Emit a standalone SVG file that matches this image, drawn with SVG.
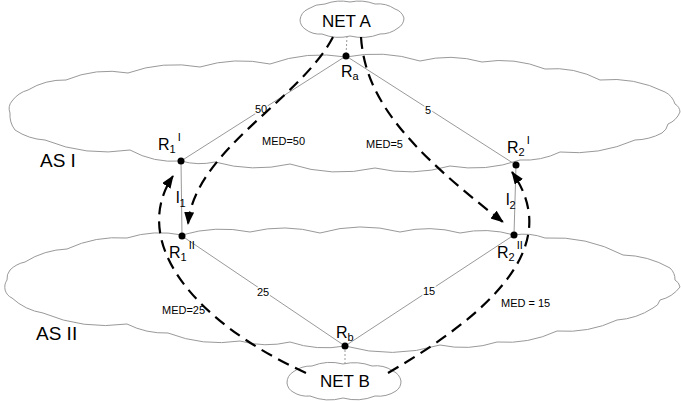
<svg xmlns="http://www.w3.org/2000/svg" width="681" height="401" viewBox="0 0 681 401">
<style>
.cloud{fill:#fff;stroke:#999;stroke-width:1}
.link{stroke:#999;stroke-width:1;fill:none}
.dot{stroke:#999;stroke-width:1;stroke-dasharray:2 2;fill:none}
.path{stroke:#000;stroke-width:2.2;fill:none;stroke-dasharray:12 7;marker-end:url(#ah)}
text{font-family:"Liberation Sans",Arial,sans-serif;fill:#000}
.r{font-size:16px}
.s{font-size:11px}
.lbl{font-size:11px;fill:#000;paint-order:stroke;stroke:#fff;stroke-width:3}
.as{font-size:19px}
.net{font-size:17px}
</style>
<defs>
<marker id="ah" markerUnits="userSpaceOnUse" markerWidth="14" markerHeight="12" refX="12" refY="5" orient="auto">
<path d="M0,0 L13,5 L0,10 Z" fill="#000"/>
</marker>
</defs>
<g id="as1">
<path class="cloud" d="M10,113 A12,12 0 0 1 12,101 A30,30 0 0 1 28,90 A70,70 0 0 1 66,80 A110,110 0 0 1 128,73 A140,140 0 0 1 200,67 A140,140 0 0 1 270,64 A150,150 0 0 1 346,57 A150,150 0 0 1 420,61 A120,120 0 0 1 482,62 A120,120 0 0 1 545,69 A100,100 0 0 1 600,80 A120,120 0 0 1 665,92 A20,20 0 0 1 675,104 A10,10 0 0 1 680,112 A22,22 0 0 1 668,124 A14,14 0 0 1 662,133 A60,60 0 0 1 635,140 A150,150 0 0 1 560,152 A80,80 0 0 1 520,160 A140,140 0 0 1 450,166 A150,150 0 0 1 375,168 A160,160 0 0 1 290,164 A150,150 0 0 1 215,162 A70,70 0 0 1 181,161 A90,90 0 0 1 130,150 A160,160 0 0 1 45,140 A60,60 0 0 1 15,130 A25,25 0 0 1 10,113 Z"/>
<text class="as" x="40" y="167">AS I</text>
</g>
<g id="as2">
<path class="cloud" d="M7,280 A14,14 0 0 1 10,270 A30,30 0 0 1 25,262 A85,85 0 0 1 67,249 A120,120 0 0 1 127,238 A110,110 0 0 1 182,235 A140,140 0 0 1 250,232 A140,140 0 0 1 320,233 A150,150 0 0 1 400,232 A120,120 0 0 1 460,233 A110,110 0 0 1 514,235 A60,60 0 0 1 545,238 A150,150 0 0 1 623,255 A100,100 0 0 1 670,268 A16,16 0 0 1 675,280 A10,10 0 0 1 680,287 A35,35 0 0 1 660,300 A12,12 0 0 1 653,308 A75,75 0 0 1 617,320 A120,120 0 0 1 557,331 A120,120 0 0 1 497,342 A110,110 0 0 1 440,345 A170,170 0 0 1 345,346 A110,110 0 0 1 290,342 A100,100 0 0 1 240,341 A140,140 0 0 1 168,333 A85,85 0 0 1 127,324 A160,160 0 0 1 43,313 A60,60 0 0 1 12,298 A12,12 0 0 1 7,280 Z"/>
<text class="as" x="36" y="340">AS II</text>
</g>
<g id="netA">
<path class="cloud" d="M300,20 A14,14 0 0 1 308,9 A30,30 0 0 1 325,4 A45,45 0 0 1 350,2 A45,45 0 0 1 375,4 A30,30 0 0 1 395,9 A14,14 0 0 1 404,18 A12,12 0 0 1 398,28 A28,28 0 0 1 380,34 A50,50 0 0 1 350,36 A45,45 0 0 1 322,34 A24,24 0 0 1 305,29 A12,12 0 0 1 300,20 Z"/>
<text class="net" x="322" y="27">NET A</text>
</g>
<g id="netB">
<path class="cloud" d="M287,383 A13,13 0 0 1 293,372 A30,30 0 0 1 312,366 A50,50 0 0 1 343,364 A50,50 0 0 1 372,366 A30,30 0 0 1 393,371 A14,14 0 0 1 401,381 A12,12 0 0 1 396,391 A32,32 0 0 1 375,396 A50,50 0 0 1 343,398 A50,50 0 0 1 310,396 A26,26 0 0 1 293,392 A12,12 0 0 1 287,383 Z"/>
<text class="net" x="320" y="387">NET B</text>
</g>
<g id="connectors">
<line class="link" x1="346" y1="56" x2="181" y2="161"/>
<line class="link" x1="346" y1="56" x2="516" y2="165"/>
<line class="link" x1="181" y1="161" x2="182" y2="236"/>
<line class="link" x1="516" y1="165" x2="514" y2="235"/>
<line class="link" x1="182" y1="236" x2="345" y2="346"/>
<line class="link" x1="514" y1="235" x2="345" y2="346"/>
<line class="dot" x1="347" y1="36" x2="346" y2="56"/>
<line class="dot" x1="345" y1="346" x2="345" y2="364"/>
<text class="lbl" x="255" y="113">50</text>
<text class="lbl" x="425" y="114">5</text>
<text class="lbl" x="257" y="296">25</text>
<text class="lbl" x="423" y="295">15</text>
<path class="path" d="M333,37 C300,100 195,150 188,224"/>
<path class="path" d="M361,37 C365,100 410,150 503,222"/>
<path class="path" d="M306,373 C190,320 130,240 173,176"/>
<path class="path" d="M388,373 C505,305 560,240 512,172"/>
<text class="s" x="262" y="145">MED=50</text>
<text class="s" x="366" y="148">MED=5</text>
<text class="s" x="162" y="314">MED=25</text>
<text class="s" x="501" y="307">MED = 15</text>
</g>
<g id="Ra"><circle cx="346" cy="56" r="3.5"/><text class="r" x="341" y="77">R<tspan class="s" dy="3">a</tspan></text></g>
<g id="R1I"><circle cx="181" cy="161" r="3.5"/><text class="r" x="158" y="150">R<tspan class="s" dy="3">1</tspan><tspan class="s" dx="2" dy="-12">I</tspan></text></g>
<g id="R2I"><circle cx="516" cy="165" r="3.5"/><text class="r" x="507" y="153">R<tspan class="s" dy="3">2</tspan><tspan class="s" dx="2" dy="-12">I</tspan></text></g>
<g id="R1II"><circle cx="182" cy="236" r="3.5"/><text class="r" x="169" y="258">R<tspan class="s" dy="3">1</tspan><tspan class="s" dx="2" dy="-12">II</tspan></text></g>
<g id="R2II"><circle cx="514" cy="235" r="3.5"/><text class="r" x="497" y="258">R<tspan class="s" dy="3">2</tspan><tspan class="s" dx="2" dy="-12">II</tspan></text></g>
<g id="Rb"><circle cx="345" cy="346" r="3.5"/><text class="r" x="336" y="338">R<tspan class="s" dy="3">b</tspan></text></g>
<g id="l1"><text class="r" x="176" y="203">l<tspan class="s" dy="4">1</tspan></text></g>
<g id="l2"><text class="r" x="506" y="205">l<tspan class="s" dy="4">2</tspan></text></g>
</svg>
